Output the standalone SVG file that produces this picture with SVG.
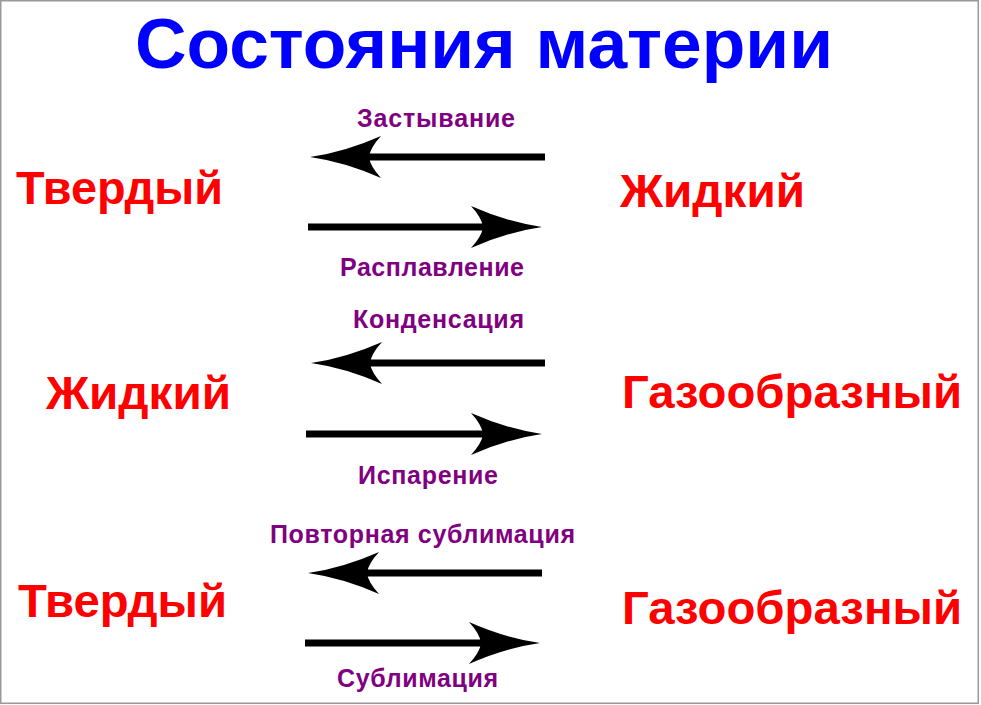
<svg xmlns="http://www.w3.org/2000/svg" width="981" height="705" viewBox="0 0 981 705">
<style>
.title{font-family:"Liberation Sans",Arial,sans-serif;font-weight:bold;font-size:70px;fill:#0000ff}
.state{font-family:"Liberation Sans",Arial,sans-serif;font-weight:bold;font-size:47px;fill:#ff0000}
.proc{font-family:"Liberation Sans",Arial,sans-serif;font-weight:bold;font-size:25px;fill:#800080}
.arr{stroke:#000;stroke-width:7;fill:none;marker-end:url(#head)}
</style>
<defs>
<marker id="head" markerUnits="userSpaceOnUse" viewBox="-12 -22 72 44" markerWidth="72" markerHeight="44" refX="0" refY="0" orient="auto" overflow="visible">
<path d="M59,0 Q24,-5 -12,-21 Q-1,-9 0,0 Q-1,9 -12,21 Q24,5 59,0 Z" fill="#000"/>
</marker>
</defs>
<rect x="0.75" y="0.75" width="977.5" height="702.5" fill="#fff" stroke="#999" stroke-width="1.5"/>
<text class="title" x="135" y="68" textLength="698" lengthAdjust="spacingAndGlyphs">Состояния материи</text>

<g id="connectors">
<line class="arr" x1="545" y1="157" x2="369" y2="157"/>
<line class="arr" x1="308" y1="227" x2="483" y2="227"/>
<line class="arr" x1="545" y1="363" x2="370" y2="363"/>
<line class="arr" x1="306" y1="434" x2="483" y2="434"/>
<line class="arr" x1="542" y1="573" x2="367" y2="573"/>
<line class="arr" x1="305" y1="643" x2="481" y2="643"/>
</g>

<g id="labels">
<text class="proc" x="357" y="127" textLength="158" lengthAdjust="spacing">Застывание</text>
<text class="proc" x="340" y="276" textLength="184" lengthAdjust="spacing">Расплавление</text>
<text class="proc" x="353" y="328" textLength="171" lengthAdjust="spacing">Конденсация</text>
<text class="proc" x="358" y="484" textLength="140" lengthAdjust="spacing">Испарение</text>
<text class="proc" x="270" y="543" textLength="305" lengthAdjust="spacing">Повторная сублимация</text>
<text class="proc" x="337" y="687" textLength="161" lengthAdjust="spacing">Сублимация</text>
</g>

<g id="solid1"><text class="state" x="16" y="204" textLength="207" lengthAdjust="spacingAndGlyphs">Твердый</text></g>
<g id="liquid1"><text class="state" x="620" y="207" textLength="185" lengthAdjust="spacingAndGlyphs">Жидкий</text></g>
<g id="liquid2"><text class="state" x="46" y="409" textLength="185" lengthAdjust="spacingAndGlyphs">Жидкий</text></g>
<g id="gas1"><text class="state" x="622" y="408" textLength="340" lengthAdjust="spacingAndGlyphs">Газообразный</text></g>
<g id="solid2"><text class="state" x="18" y="617" textLength="209" lengthAdjust="spacingAndGlyphs">Твердый</text></g>
<g id="gas2"><text class="state" x="622" y="624" textLength="340" lengthAdjust="spacingAndGlyphs">Газообразный</text></g>
</svg>
